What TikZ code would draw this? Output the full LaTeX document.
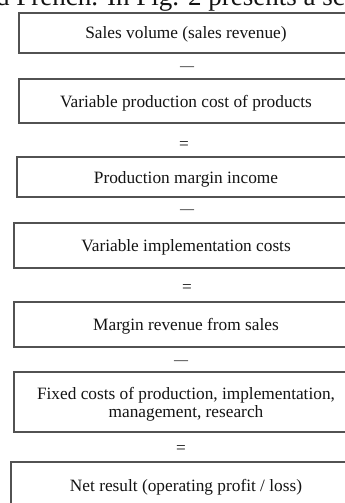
\documentclass[tikz,border=0pt]{standalone}
\usepackage{fontspec}
\setmainfont{Liberation Serif}
\begin{document}
\begin{tikzpicture}[x=1pt,y=-1pt,
  every node/.style={text=black!92},
  box/.style={draw=black!68, line width=1.6pt, rectangle, inner sep=0pt,
    align=center, font=\fontsize{17.3}{18}\selectfont,
    text height=13pt, text depth=1pt},
  twoline/.style={text height=, text depth=-2pt},
  minus/.style={anchor=base, inner sep=0pt, font=\fontsize{14}{14}\selectfont},
  equals/.style={anchor=base, inner sep=0pt, font=\fontsize{17.3}{17.3}\selectfont}]
\useasboundingbox (0,0) rectangle (345,503);
\clip (0,0) rectangle (345,503);
\fill[white] (0,0) rectangle (345,503);

% tail of the running text above the figure
\node[anchor=base west, inner sep=0pt, font=\fontsize{27}{30}\selectfont]
  (intro) at (-4,5.5) {d French. In Fig. 2 presents a sc};

% the calculation chain
\node[box, minimum width=334pt, minimum height=40pt] (b1) at (186,33)
  {Sales volume (sales revenue)};
\node[minus] (s1) at (187,70.5) {—};
\node[box, minimum width=334pt, minimum height=44pt] (b2) at (186,101)
  {Variable production cost of products};
\node[equals] (s2) at (184,149.5) {=};
\node[box, minimum width=338pt, minimum height=40pt] (b3) at (186,177)
  {Production margin income};
\node[minus] (s3) at (187,213) {—};
\node[box, minimum width=344pt, minimum height=45pt] (b4) at (186,245.5)
  {Variable implementation costs};
\node[equals] (s4) at (187,292.5) {=};
\node[box, minimum width=344pt, minimum height=45pt] (b5) at (186,324.5)
  {Margin revenue from sales};
\node[minus] (s5) at (181,364) {—};
\node[box, twoline, minimum width=344pt, minimum height=60pt] (b6) at (186,402)
  {Fixed costs of production, implementation,\\management, research};
\node[equals] (s6) at (181,453.5) {=};
\node[box, minimum width=350pt, minimum height=46pt] (b7) at (186,485)
  {Net result (operating profit / loss)};
\end{tikzpicture}
\end{document}
